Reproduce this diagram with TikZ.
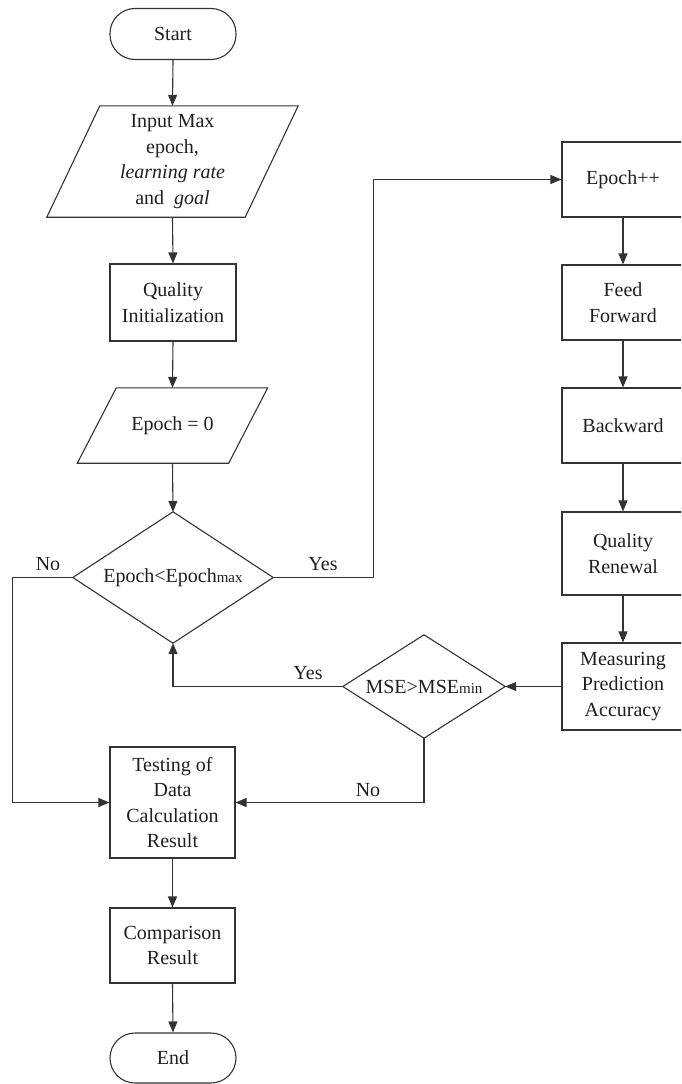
\documentclass[tikz,border=0pt]{standalone}
\usepackage{fontspec}
\setmainfont{Liberation Serif}
\usetikzlibrary{arrows.meta}
\begin{document}
\begin{tikzpicture}[x=1pt,y=1pt,
  every node/.style={font=\fontsize{20}{25.5}\selectfont, text=black!88, inner sep=0pt, align=center},
  ln/.style={draw=black!80, line width=1.1pt},
  term/.style={ln, rectangle, rounded corners=25pt, minimum width=126pt, minimum height=51pt},
  proc/.style={ln, rectangle},
  ghost/.style={rectangle, draw=none},
  arr/.style={ln, -{Triangle[length=11pt,width=9pt]}},
  lbl/.style={font=\fontsize{20}{24}\selectfont}
]
\useasboundingbox (0,0) rectangle (681,-1084);
\clip (0,0) rectangle (681,-1084);
\newcommand{\smallsub}[1]{{\fontsize{15}{15}\selectfont #1}}

% left column
\node[term] (start) at (173,-34) {Start};
\node[ghost, minimum width=198pt, minimum height=111pt] (inp) at (172.5,-161.5)
  {Input Max\\epoch,\\\textit{learning rate}\\and\ \ \textit{goal}};
\draw[ln] ([xshift=26.5pt]inp.north west) -- ([xshift=26.5pt]inp.north east)
  -- ([xshift=-26.5pt]inp.south east) -- ([xshift=-26.5pt]inp.south west) -- cycle;
\node[proc, minimum width=126pt, minimum height=77pt] (qinit) at (173,-302.5) {Quality\\Initialization};
\node[ghost, minimum width=151pt, minimum height=75pt] (ep0) at (172.5,-425.5) {Epoch = 0};
\draw[ln] ([xshift=19.5pt]ep0.north west) -- ([xshift=19.5pt]ep0.north east)
  -- ([xshift=-19.5pt]ep0.south east) -- ([xshift=-19.5pt]ep0.south west) -- cycle;
\node[ghost, minimum width=200pt, minimum height=131pt] (d1) at (173,-577.5) {Epoch<Epoch\smallsub{max}};
\draw[ln] (d1.north) -- (d1.east) -- (d1.south) -- (d1.west) -- cycle;
\node[proc, minimum width=125pt, minimum height=111pt] (test) at (172.5,-802.5) {Testing of\\Data\\Calculation\\Result};
\node[proc, minimum width=125pt, minimum height=75pt] (comp) at (172.5,-945.5) {Comparison\\Result};
\node[term, minimum height=50pt] (stop) at (173,-1058) {End};

% right column
\node[proc, minimum width=122pt, minimum height=75pt] (epp) at (623,-179.5) {Epoch++};
\node[proc, minimum width=122pt, minimum height=75pt] (feed) at (623,-302.5) {Feed\\Forward};
\node[proc, minimum width=122pt, minimum height=75pt] (back) at (623,-425.5) {Backward};
\node[proc, minimum width=122pt, minimum height=83pt] (renew) at (623,-553.5) {Quality\\Renewal};
\node[proc, minimum width=122pt, minimum height=87pt] (meas) at (623,-686.5) {Measuring\\Prediction\\Accuracy};

% MSE diamond
\node[ghost, minimum width=162pt, minimum height=103pt] (d2) at (424,-686.5) {MSE>MSE\smallsub{min}};
\draw[ln] (d2.north) -- (d2.east) -- (d2.south) -- (d2.west) -- cycle;

% connectors
\draw[arr] (start.south) -- (inp.north);
\draw[arr] (inp.south) -- (qinit.north);
\draw[arr] (qinit.south) -- (ep0.north);
\draw[arr] (ep0.south) -- (d1.north);
\draw[arr] (d1.east) -- ++(100,0) |- (epp.west);
\draw[arr] (epp.south) -- (feed.north);
\draw[arr] (feed.south) -- (back.north);
\draw[arr] (back.south) -- (renew.north);
\draw[arr] (renew.south) -- (meas.north);
\draw[arr] (meas.west) -- (d2.east);
\draw[arr] (d2.west) -| (d1.south);
\draw[arr] (d2.south) |- (test.east);
\draw[arr] (d1.west) -- ++(-60,0) |- (test.west);
\draw[arr] (test.south) -- (comp.north);
\draw[arr] (comp.south) -- (stop.north);

% labels
\node[lbl] (lno1) at (48,-564) {No};
\node[lbl] (lyes1) at (323,-564) {Yes};
\node[lbl] (lyes2) at (308,-673) {Yes};
\node[lbl] (lno2) at (368,-790) {No};
\end{tikzpicture}
\end{document}
